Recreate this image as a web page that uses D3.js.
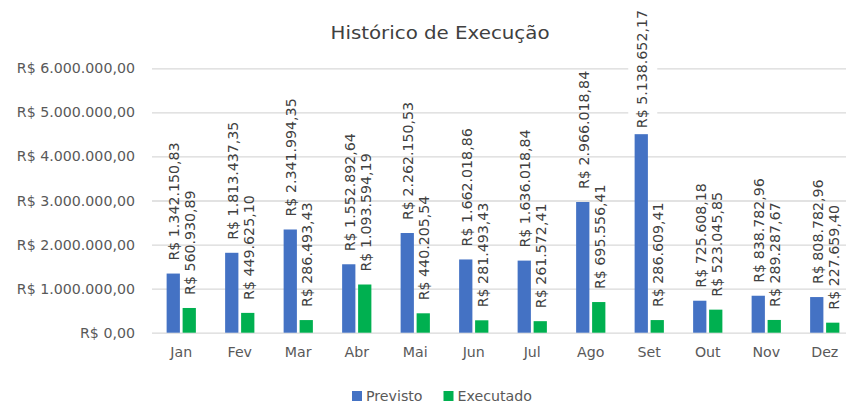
<!DOCTYPE html>
<html>
<head>
<meta charset="utf-8">
<script src="https://cdn.jsdelivr.net/npm/d3@7/dist/d3.min.js"></script>
<style>
  html, body { margin: 0; padding: 0; background: #fff; }
  svg { display: block; font-family: "DejaVu Sans", sans-serif; }
</style>
</head>
<body>
<svg id="chart" width="846" height="404"></svg>
<script>
// Monthly planned vs executed amounts (R$)
const months = ["Jan", "Fev", "Mar", "Abr", "Mai", "Jun", "Jul", "Ago", "Set", "Out", "Nov", "Dez"];
const previsto = [1342150.83, 1813437.35, 2341994.35, 1552892.64, 2262150.53, 1662018.86,
                  1636018.84, 2966018.84, 5138652.17, 725608.18, 838782.96, 808782.96];
const executado = [560930.89, 449625.10, 286493.43, 1093594.19, 440205.54, 281493.43,
                   261572.41, 695556.41, 286609.41, 523045.85, 289287.67, 227659.40];
const seriesNames = ["Previsto", "Executado"];
const yTicks = [0, 1000000, 2000000, 3000000, 4000000, 5000000, 6000000];
const title = "Histórico de Execução";

const colors = { Previsto: "#4472C4", Executado: "#00B050" };

const brl = d3.formatLocale({
  decimal: ",", thousands: ".", grouping: [3], currency: ["R$ ", ""]
}).format("$,.2f");

const svg = d3.select("#chart");
const plot = { left: 152, right: 854, top: 68.3, bottom: 332.7 };

const x0 = d3.scaleBand()
  .domain(months)
  .range([plot.left, plot.right])
  .paddingInner(0.5)
  .paddingOuter(0.25);

const x1 = d3.scaleBand()
  .domain(seriesNames)
  .range([0, x0.bandwidth()])
  .paddingInner(0.17);

const y = d3.scaleLinear()
  .domain([0, 6000000])
  .range([plot.bottom, plot.top]);

const rows = months.map((m, i) => ({
  month: m,
  values: [
    { key: "Previsto", value: previsto[i] },
    { key: "Executado", value: executado[i] }
  ]
}));

// Title
svg.append("text")
  .attr("x", 440)
  .attr("y", 39)
  .attr("text-anchor", "middle")
  .attr("font-size", 18)
  .attr("textLength", 219)
  .attr("lengthAdjust", "spacingAndGlyphs")
  .attr("fill", "#404040")
  .text(title);

// Horizontal gridlines and value axis
const yAxis = d3.axisLeft(y)
  .tickValues(yTicks)
  .tickSize(-(plot.right - plot.left))
  .tickPadding(17)
  .tickFormat(brl);

const gy = svg.append("g")
  .attr("transform", `translate(${plot.left},0)`)
  .call(yAxis);
gy.select(".domain").remove();
gy.selectAll(".tick line").attr("stroke", "#D9D9D9").attr("stroke-width", 1.3);
gy.selectAll(".tick text")
  .attr("font-size", 14.2)
  .attr("fill", "#595959")
  .attr("font-family", "DejaVu Sans, sans-serif");

// Category axis labels
const xAxis = d3.axisBottom(x0).tickSize(0).tickPadding(14);
const gx = svg.append("g")
  .attr("transform", `translate(0,${plot.bottom})`)
  .call(xAxis);
gx.select(".domain").remove();
gx.selectAll(".tick text")
  .attr("font-size", 14.2)
  .attr("fill", "#595959")
  .attr("font-family", "DejaVu Sans, sans-serif");

// Bars
const groups = svg.append("g").selectAll("g")
  .data(rows)
  .join("g")
  .attr("transform", d => `translate(${x0(d.month)},0)`);

groups.selectAll("rect")
  .data(d => d.values)
  .join("rect")
  .attr("x", d => x1(d.key))
  .attr("y", d => y(d.value))
  .attr("width", x1.bandwidth())
  .attr("height", d => y(0) - y(d.value))
  .attr("fill", d => colors[d.key]);

// Rotated value labels above each bar
const labelGap = 13;
const labelTopLimit = 10;
const labelLayer = svg.append("g");

rows.forEach(row => {
  row.values.forEach(v => {
    const cx = x0(row.month) + x1(v.key) + x1.bandwidth() / 2;
    const g = labelLayer.append("g");
    const t = g.append("text")
      .attr("font-size", 14.2)
      .attr("fill", "#404040")
      .attr("dy", "0.36em")
      .text(brl(v.value));
    const len = t.node().getComputedTextLength();
    let start = y(v.value) - labelGap;
    let boxed = false;
    if (start - len < labelTopLimit) {
      start = labelTopLimit + len;
      boxed = true;
    }
    g.attr("transform", `translate(${cx + 1},${start}) rotate(-90)`);
    if (boxed) {
      g.insert("rect", "text")
        .attr("x", -6)
        .attr("y", -14)
        .attr("width", len + 12)
        .attr("height", 29)
        .attr("fill", "#fff");
    }
  });
});

// Legend
const legendItems = [
  { key: "Previsto", x: 352 },
  { key: "Executado", x: 443.5 }
];
const legend = svg.append("g");
legendItems.forEach(item => {
  legend.append("rect")
    .attr("x", item.x)
    .attr("y", 391)
    .attr("width", 10)
    .attr("height", 10)
    .attr("fill", colors[item.key]);
  legend.append("text")
    .attr("x", item.x + 14)
    .attr("y", 401)
    .attr("font-size", 14.2)
    .attr("fill", "#595959")
    .text(item.key);
});
</script>
</body>
</html>
